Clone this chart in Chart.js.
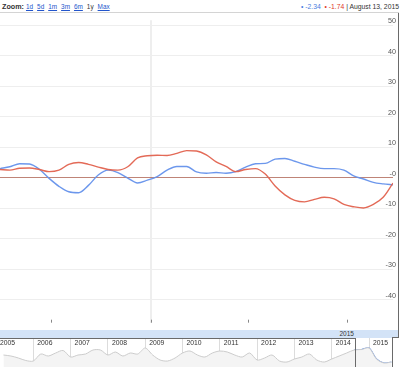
<!DOCTYPE html>
<html><head><meta charset="utf-8">
<script src="https://cdn.jsdelivr.net/npm/chart.js@4"></script>
<style>
html,body{margin:0;padding:0;background:#fff;width:400px;height:367px;overflow:hidden;font-family:"Liberation Sans",Arial,sans-serif;}
.abs{position:absolute;}
#zoom{left:2px;top:2px;font-size:6.4px;color:#333;white-space:nowrap;line-height:9px;}
#zoom b{font-size:7.2px;margin-right:2px;}
#zoom a{color:#2255cc;text-decoration:underline;margin-right:4px;}
#zoom span{margin-right:4px;color:#333;}
#info{right:1px;top:2px;font-size:6.8px;color:#333;white-space:nowrap;line-height:9px;}
#topline{left:0;top:12px;width:399px;height:1px;background:#d4d4d4;}
#band{left:0;top:330px;width:399px;height:8px;background:#d3e3f7;}
#bandlbl{top:330px;font-size:6.5px;color:#333;transform:translateX(-50%);line-height:8px;}
#main{left:0;top:13px;}
#nav{left:0;top:338px;}
.ln{position:absolute;background:#6a6a6a;}
</style></head>
<body>
<div id="zoom" class="abs"><b>Zoom:</b><a>1d</a><a>5d</a><a>1m</a><a>3m</a><a>6m</a><span>1y</span><a>Max</a></div>
<div id="info" class="abs"><span style="color:#4a7de0">&#8226; -2.34</span>&nbsp; <span style="color:#e03a2a">&#8226; -1.74</span> | August 13, 2015</div>
<div id="topline" class="abs"></div>
<canvas id="main" class="abs" width="399" height="317"></canvas>
<div id="band" class="abs"></div>
<div id="bandlbl" class="abs">2015</div>
<canvas id="nav" class="abs" width="399" height="29"></canvas>
<div class="ln" style="left:398px;top:13px;width:1px;height:325px"></div>
<div class="ln" style="left:392px;top:337px;width:7px;height:1px"></div>
<div class="ln" style="left:0;top:338px;width:355px;height:1px"></div>
<div class="ln" style="left:355px;top:338px;width:1px;height:29px"></div>
<div class="ln" style="left:392px;top:337px;width:1px;height:30px"></div>
<script>
// ---- main chart data (1 year, sampled ~every 9 days) ----
const sampleIndex = [0,1,2,3,4,5,6,7,8,9,10,11,12,13,14,15,16,17,18,19,20,21,22,23,24,25,26,27,28,29,30,31,32,33,34,35,36,37,38,39,40];
const blueValues = [3.0,3.6,4.6,4.5,2.8,-0.2,-2.8,-4.6,-4.9,-2.5,0.9,2.5,1.7,-0.1,-1.7,-0.8,0.4,2.5,3.7,3.7,1.9,1.5,1.7,1.5,2.0,3.5,4.6,4.7,6.1,6.3,5.4,4.4,3.5,3.0,3.0,2.5,0.6,-0.4,-1.5,-2.0,-2.34];
const redValues  = [2.7,2.5,3.1,3.2,2.7,2.0,2.5,4.4,5.0,4.4,3.5,2.7,2.5,3.6,6.5,7.2,7.4,7.3,8.0,8.9,8.75,7.5,5.2,3.7,2.0,2.7,3.0,1.2,-2.7,-5.6,-7.4,-7.9,-7.1,-6.4,-6.9,-8.75,-9.5,-9.9,-8.75,-6.4,-1.74];
const yTickValues = [50,40,30,20,10,0,-10,-20,-30,-40];
const yTickLabels = ['50','40','30','20','10','-0','-10','-20','-30','-40'];
const quarterTicks = [5.21,15.34,25.26,35.29];   // Oct 1, Jan 1, Apr 1, Jul 1
const yearBoundary = 15.34;                        // Jan 1 2015
const bandLabel = {at:35.29, text:'2015'};

// ---- navigator data (2005 - 2015) ----
const navYears  = [2005.2,2005.4,2005.6,2005.8,2006.0,2006.2,2006.4,2006.6,2006.8,2007.0,2007.2,2007.4,2007.6,2007.8,2008.0,2008.2,2008.4,2008.6,2008.8,2009.0,2009.2,2009.4,2009.6,2009.8,2010.0,2010.2,2010.4,2010.6,2010.8,2011.0,2011.2,2011.4,2011.6,2011.8,2012.0,2012.2,2012.4,2012.6,2012.8,2013.0,2013.2,2013.4,2013.6,2013.8,2014.0,2014.2,2014.4,2014.6,2014.8,2015.0,2015.2,2015.4,2015.6];
const navValues = [12,11,9,6.5,6,13,11,14,16.5,10,12,13,17,17,12,15,11,14,13,19,12,7,6,9,14,16,12,10,14,16,15,12,10,14,7,9,12,6,5,8,10,13,7,5,8,11,14,17,17.5,19,8,4,5];
const navYearLabels = [2005,2006,2007,2008,2009,2010,2011,2012,2013,2014,2015];
const selectionStart = 2014.6;

const mainChart = new Chart(document.getElementById('main'), {
  type:'line',
  data:{
    labels: sampleIndex,
    datasets:[
      {data: sampleIndex.map((x,i)=>({x, y: redValues[i]})), borderColor:'rgba(226,98,78,0.95)', borderWidth:1.4, pointRadius:0, cubicInterpolationMode:'monotone'},
      {data: sampleIndex.map((x,i)=>({x, y: blueValues[i]})), borderColor:'rgba(100,145,235,0.95)', borderWidth:1.4, pointRadius:0, cubicInterpolationMode:'monotone'}
    ]
  },
  options:{
    responsive:false, animation:false, events:[],
    layout:{padding:0},
    plugins:{legend:{display:false}, tooltip:{enabled:false}},
    scales:{
      x:{type:'linear', min:0, max:40, display:true,
         afterBuildTicks:(ax)=>{ax.ticks=[{value:yearBoundary}];},
         ticks:{display:false}, border:{display:false},
         grid:{drawTicks:false, color:'#eeeeee', lineWidth:2}},
      y:{type:'linear', position:'right', min:-47.5, max:51.6,
         afterBuildTicks:(ax)=>{ax.ticks=yTickValues.map(v=>({value:v}));},
         border:{display:false},
         grid:{drawTicks:false, lineWidth:1,
               color:(c)=> c.tick && c.tick.value===0 ? 'rgba(180,110,95,0.85)' : '#eeeeee'},
         ticks:{mirror:true, padding:3, labelOffset:-4, color:'#555',
                font:{family:'"Liberation Sans", Arial, sans-serif', size:7.2},
                callback:(v)=>{const k=yTickValues.indexOf(v); return k>=0?yTickLabels[k]:'';}}}
    }
  },
  plugins:[{
    id:'quarterMarks',
    afterDatasetsDraw(chart){
      const {ctx, chartArea:a, scales:{x}} = chart;
      ctx.save();
      ctx.strokeStyle='#888'; ctx.lineWidth=1;
      quarterTicks.forEach(q=>{
        const px=Math.round(x.getPixelForValue(q))+0.5;
        ctx.beginPath(); ctx.moveTo(px,a.bottom-3); ctx.lineTo(px,a.bottom); ctx.stroke();
      });
      ctx.restore();
    }
  }]
});
document.getElementById('bandlbl').style.left = mainChart.scales.x.getPixelForValue(bandLabel.at)+'px';

const navSel = navYears.map((x,i)=> x>=selectionStart ? {x, y:navValues[i]} : null).filter(Boolean);
new Chart(document.getElementById('nav'), {
  type:'line',
  data:{datasets:[
    {data: navYears.map((x,i)=>({x, y:navValues[i]})), borderColor:'#cccccc', borderWidth:1, backgroundColor:'#f4f4f4', fill:'origin', pointRadius:0, tension:0.3},
    {data: navSel, borderColor:'#5a8de8', borderWidth:1.2, backgroundColor:'#e6f0fc', fill:'origin', pointRadius:0, tension:0.3}
  ]},
  options:{
    responsive:false, animation:false, events:[],
    layout:{padding:0},
    plugins:{legend:{display:false}, tooltip:{enabled:false}},
    scales:{
      x:{type:'linear', min:2005.107, max:2015.804, display:true,
         afterBuildTicks:(ax)=>{ax.ticks=navYearLabels.map(v=>({value:v}));},
         ticks:{display:false}, border:{display:false},
         grid:{drawTicks:false, color:'#dcdcdc', lineWidth:1}},
      y:{min:0, max:29, display:false}
    }
  },
  plugins:[{
    id:'navLabels',
    afterDraw(chart){
      const {ctx, scales:{x}} = chart;
      ctx.save();
      ctx.fillStyle='#333'; ctx.font='6.8px "Liberation Sans", Arial, sans-serif';
      ctx.textBaseline='top';
      navYearLabels.forEach(y=>{ ctx.fillText(String(y), x.getPixelForValue(y)+4, 2); });
      ctx.restore();
    }
  }]
});
</script>
</body></html>
